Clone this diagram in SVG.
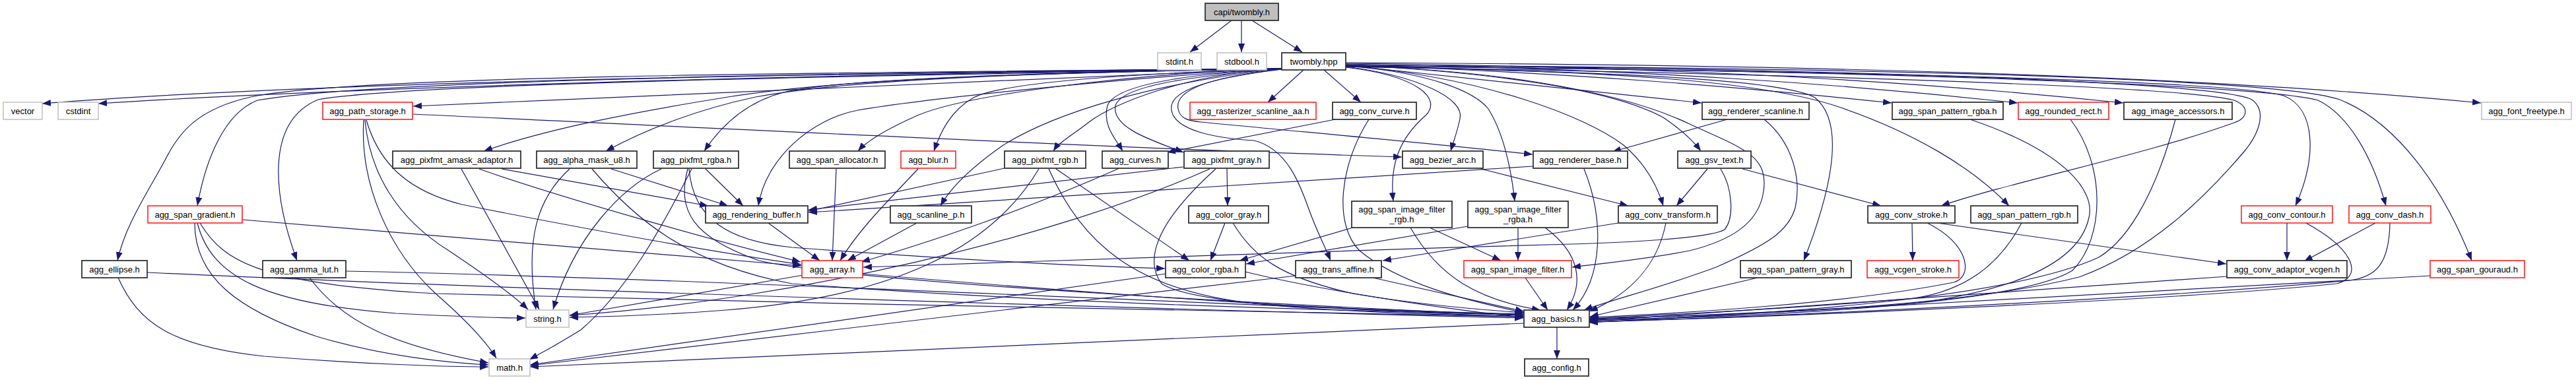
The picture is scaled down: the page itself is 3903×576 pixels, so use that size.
<svg xmlns="http://www.w3.org/2000/svg" width="3903" height="576" viewBox="0 0 3903 576">
<style>
rect{fill:#fff;stroke:#333;stroke-width:1.8}
.r rect{stroke:#f00;stroke-width:1.4}
.g rect{stroke:#bfbfbf;stroke-width:1.5}
.top rect{fill:#bfbfbf;stroke:#333}
text{font-family:"Liberation Sans",Arial,sans-serif;font-size:13px;fill:#000;text-anchor:middle}
#edges path{fill:none;stroke:#191970;stroke-width:1.2;marker-end:url(#a)}
</style>
<defs>
<marker id="a" markerUnits="userSpaceOnUse" markerWidth="14" markerHeight="10" refX="13" refY="5" orient="auto"><path d="M0,0 L13,5 L0,10 Z" fill="#191970"/></marker>
</defs>
<rect x="0" y="0" width="3903" height="576" style="fill:#fff;stroke:none"/>
<g id="edges">
<path d="M1866,31 L1803,79"/>
<path d="M1881,31 L1881,79"/>
<path d="M1897,31 L1973,79"/>
<path d="M1942,104 C1400,108 500,122 64,157"/>
<path d="M1942,104 C1400,110 600,128 149,157"/>
<path d="M1942,104 C1600,118 1100,140 626,161"/>
<path d="M1942,104 C1200,110 520,116 380,147 C300,165 272,200 252,239 C225,290 190,340 178,395"/>
<path d="M1942,104 C1200,112 560,122 390,152 C340,172 312,240 299,312"/>
<path d="M1942,104 C1300,115 620,126 482,151 C400,185 415,300 450,395"/>
<path d="M1942,104 C1600,110 1280,118 1103,147 C960,170 830,195 733,229"/>
<path d="M1942,104 C1600,110 1300,118 1145,147 C1060,165 980,195 918,229"/>
<path d="M1942,104 C1600,110 1280,118 1187,140 C1130,155 1093,190 1067,229"/>
<path d="M1942,104 C1700,118 1400,150 1300,167 C1230,180 1160,240 1149,312"/>
<path d="M1942,104 C1700,112 1460,145 1390,175 C1345,195 1315,212 1300,229"/>
<path d="M1942,104 C1700,112 1520,125 1475,148 C1440,168 1425,200 1415,229"/>
<path d="M1942,104 C1800,112 1690,155 1650,185 C1625,205 1605,215 1596,229"/>
<path d="M1942,104 C1750,125 1600,170 1520,220 C1470,255 1440,285 1425,312"/>
<path d="M1942,104 C1800,112 1690,128 1678,160 C1670,190 1690,210 1701,229"/>
<path d="M1942,104 C1800,116 1700,130 1690,160 C1684,195 1750,214 1793,231"/>
<path d="M1975,106 L1921,155"/>
<path d="M2006,106 L2062,155"/>
<path d="M1942,105 C1820,120 1770,140 1775,167 C1780,200 1850,210 1900,213 C1950,225 1970,280 1983,317 C1995,350 2008,375 2016,395"/>
<path d="M1942,105 C1820,118 1780,140 1785,165 C1788,180 1800,183 1820,185 C1950,198 2150,215 2322,234"/>
<path d="M2039,99 L2578,156"/>
<path d="M2039,98 C2400,112 2620,130 2866,156"/>
<path d="M2039,97 C2500,105 2800,128 3057,156"/>
<path d="M2039,96 C2600,102 2950,128 3217,156"/>
<path d="M2039,95 C2700,98 3300,112 3759,156"/>
<path d="M2039,101 C2150,115 2220,150 2212,180 C2208,200 2202,215 2198,229"/>
<path d="M2039,102 C2150,115 2185,150 2160,175 C2120,210 2105,250 2111,305"/>
<path d="M2039,100 C2170,110 2235,140 2255,165 C2280,205 2290,260 2295,305"/>
<path d="M2039,99 C2250,118 2400,175 2460,220 C2495,250 2512,285 2520,312"/>
<path d="M2039,98 C2300,112 2450,140 2520,178 C2545,195 2563,210 2577,229"/>
<path d="M2039,101 C2600,110 3300,128 3385,152 C3410,162 3405,180 3385,186 C3250,235 3050,275 2941,312"/>
<path d="M2039,100 C2450,108 2660,122 2780,160 C2900,200 2990,255 3044,312"/>
<path d="M2039,101 C2400,108 2700,118 2750,148 C2795,185 2778,280 2733,395"/>
<path d="M2039,100 C2800,108 3380,122 3460,145 C3510,165 3510,240 3478,312"/>
<path d="M2039,100 C2800,106 3420,128 3512,152 C3560,175 3595,240 3615,312"/>
<path d="M2039,99 C2800,102 3450,118 3545,151 C3630,185 3700,280 3745,395"/>
<path d="M2039,100 C2250,105 2450,135 2560,188 C2640,225 2680,235 2672,290 C2665,340 2620,365 2560,380 C2500,392 2440,398 2382,405"/>
<path d="M2039,99 C2800,103 3350,125 3410,150 C3435,165 3425,200 3400,230 C3340,300 3260,380 3150,420 C2950,470 2600,478 2408,483"/>
<path d="M2617,181 L2443,230"/>
<path d="M2673,181 C2715,215 2730,270 2720,315 C2710,350 2680,370 2600,405 C2520,435 2440,455 2400,470"/>
<path d="M2023,181 L1768,231"/>
<path d="M2074,181 C2030,250 2020,340 2060,380 C2120,430 2220,455 2309,474"/>
<path d="M626,173 C1100,195 1700,225 2124,238"/>
<path d="M555,182 C575,250 620,290 700,310 C900,350 1100,385 1214,401"/>
<path d="M553,182 C560,260 600,330 680,380 C740,420 780,450 800,469"/>
<path d="M551,182 C545,280 590,380 660,445 C700,480 735,515 752,543"/>
<path d="M367,333 L1214,403"/>
<path d="M295,338 C295,420 360,470 480,510 C580,540 680,550 740,553"/>
<path d="M299,338 C320,420 400,460 600,475 C700,480 760,482 796,482"/>
<path d="M303,338 C340,400 400,430 660,445 C1200,460 2000,475 2308,480"/>
<path d="M223,413 C800,440 1800,470 2308,482"/>
<path d="M179,421 C210,490 260,525 400,540 C550,552 680,556 740,556"/>
<path d="M524,411 C1000,420 1800,460 2308,478"/>
<path d="M469,421 C520,490 600,525 740,550"/>
<path d="M699,256 L817,469"/>
<path d="M760,256 L1073,312"/>
<path d="M726,256 C850,300 1100,370 1213,397"/>
<path d="M863,256 C815,300 795,360 812,469"/>
<path d="M897,256 C960,330 1040,400 1200,430 C1600,460 2000,470 2308,477"/>
<path d="M926,256 L1103,312"/>
<path d="M1002,256 C940,285 870,360 838,469"/>
<path d="M1048,256 C1000,350 950,440 880,500 C840,525 815,538 802,545"/>
<path d="M1069,256 L1126,312"/>
<path d="M1042,256 C1025,320 1050,360 1150,395 C1300,430 2000,465 2308,478"/>
<path d="M1044,256 C1050,330 1100,365 1200,375 C1400,390 1600,402 1765,407"/>
<path d="M1267,256 L1261,395"/>
<path d="M1391,256 C1340,310 1300,350 1273,395"/>
<path d="M1389,338 L1284,395"/>
<path d="M1164,338 L1242,395"/>
<path d="M1696,255 C1550,320 1400,370 1305,397"/>
<path d="M1522,255 L1225,320"/>
<path d="M1574,256 C1500,380 1350,450 1100,470 C1000,478 920,480 863,481"/>
<path d="M1589,256 C1640,370 1720,440 1900,460 C2100,472 2250,474 2308,476"/>
<path d="M1600,256 L1802,395"/>
<path d="M1793,253 L1225,318"/>
<path d="M1833,256 C1600,360 1200,455 863,478"/>
<path d="M1842,256 C1760,330 1730,390 1760,430 C1820,470 2200,478 2308,480"/>
<path d="M1859,255 L1860,312"/>
<path d="M1856,338 L1834,395"/>
<path d="M1868,338 C1900,390 1940,420 2050,445 C2150,462 2250,470 2309,474"/>
<path d="M1887,412 C2000,440 2200,470 2308,481"/>
<path d="M1766,415 L803,553"/>
<path d="M1217,417 L863,478"/>
<path d="M1307,415 C1600,440 2000,470 2308,480"/>
<path d="M2080,421 L2309,472"/>
<path d="M1963,418 L803,554"/>
<path d="M2050,345 L1878,395"/>
<path d="M2166,345 L2274,395"/>
<path d="M2137,345 C2180,420 2240,455 2334,470"/>
<path d="M2224,343 C2100,365 1980,385 1888,400"/>
<path d="M2300,345 L2300,395"/>
<path d="M2341,345 C2395,385 2400,430 2374,470"/>
<path d="M2311,421 L2345,470"/>
<path d="M2400,256 C2430,330 2430,420 2383,470"/>
<path d="M2323,252 L1225,322"/>
<path d="M2244,256 L2467,312"/>
<path d="M2524,338 C2510,410 2460,450 2408,472"/>
<path d="M2452,338 L2095,395"/>
<path d="M2587,256 L2540,312"/>
<path d="M2640,256 L2850,312"/>
<path d="M2607,256 C2625,285 2628,330 2613,348 C2590,362 2450,368 2380,370 C2000,380 1600,395 1308,405"/>
<path d="M2897,338 L2898,395"/>
<path d="M2935,338 L3373,400"/>
<path d="M2920,338 C2985,370 2990,420 2960,428 C2800,460 2550,475 2408,481"/>
<path d="M3063,338 C3030,400 2980,440 2900,452 C2700,470 2500,478 2408,483"/>
<path d="M2985,181 C3130,230 3175,290 3165,330 C3150,400 3050,440 2900,460 C2700,475 2500,480 2408,484"/>
<path d="M3137,181 C3190,250 3190,360 3140,410 C3060,460 2700,480 2408,485"/>
<path d="M2663,421 L2409,480"/>
<path d="M3296,181 C3270,280 3230,360 3180,390 C3050,450 2700,478 2408,486"/>
<path d="M3374,419 L2408,487"/>
<path d="M3465,338 L3465,395"/>
<path d="M3494,338 C3570,380 3580,420 3540,430 C3300,455 2700,480 2408,488"/>
<path d="M3599,338 L3491,396"/>
<path d="M3621,338 C3620,400 3600,420 3560,425 C3300,450 2700,480 2408,488"/>
<path d="M3682,418 L2408,489"/>
<path d="M2309,490 L803,556"/>
<path d="M2359,496 L2359,544"/>
</g>
<g id="n-capi" class="top"><rect x="1826" y="5" width="111" height="26"/><text x="1881.5" y="22.5">capi/twombly.h</text></g>
<g id="n-stdint" class="g"><rect x="1754" y="80" width="66" height="26"/><text x="1787" y="97.5">stdint.h</text></g>
<g id="n-stdbool" class="g"><rect x="1844" y="80" width="75" height="26"/><text x="1881.5" y="97.5">stdbool.h</text></g>
<g id="n-hpp"><rect x="1942" y="80" width="97" height="26"/><text x="1990.5" y="97.5">twombly.hpp</text></g>
<g id="n-vector" class="g"><rect x="5" y="155" width="59" height="26"/><text x="34.5" y="172.5">vector</text></g>
<g id="n-cstdint" class="g"><rect x="88" y="155" width="61" height="26"/><text x="118.5" y="172.5">cstdint</text></g>
<g id="n-path_storage" class="r"><rect x="489" y="155" width="136" height="26"/><text x="557" y="172.5">agg_path_storage.h</text></g>
<g id="n-rasterizer" class="r"><rect x="1803" y="155" width="191" height="26"/><text x="1898.5" y="172.5">agg_rasterizer_scanline_aa.h</text></g>
<g id="n-conv_curve"><rect x="2019" y="155" width="127" height="26"/><text x="2082.5" y="172.5">agg_conv_curve.h</text></g>
<g id="n-renderer_scanline"><rect x="2579" y="155" width="162" height="26"/><text x="2660" y="172.5">agg_renderer_scanline.h</text></g>
<g id="n-span_pattern_rgba"><rect x="2867" y="155" width="168" height="26"/><text x="2951" y="172.5">agg_span_pattern_rgba.h</text></g>
<g id="n-rounded_rect" class="r"><rect x="3058" y="155" width="137" height="26"/><text x="3126.5" y="172.5">agg_rounded_rect.h</text></g>
<g id="n-image_accessors"><rect x="3218" y="155" width="164" height="26"/><text x="3300" y="172.5">agg_image_accessors.h</text></g>
<g id="n-font_freetype" class="g"><rect x="3760" y="155" width="136" height="26"/><text x="3828" y="172.5">agg_font_freetype.h</text></g>
<g id="n-amask"><rect x="595" y="229" width="194" height="26"/><text x="692" y="246.5">agg_pixfmt_amask_adaptor.h</text></g>
<g id="n-alpha_mask"><rect x="813" y="229" width="152" height="26"/><text x="889" y="246.5">agg_alpha_mask_u8.h</text></g>
<g id="n-pixfmt_rgba"><rect x="990" y="229" width="129" height="26"/><text x="1054.5" y="246.5">agg_pixfmt_rgba.h</text></g>
<g id="n-span_allocator"><rect x="1196" y="229" width="145" height="26"/><text x="1268.5" y="246.5">agg_span_allocator.h</text></g>
<g id="n-blur" class="r"><rect x="1365" y="229" width="83" height="26"/><text x="1406.5" y="246.5">agg_blur.h</text></g>
<g id="n-pixfmt_rgb"><rect x="1522" y="229" width="123" height="26"/><text x="1583.5" y="246.5">agg_pixfmt_rgb.h</text></g>
<g id="n-curves"><rect x="1670" y="229" width="100" height="26"/><text x="1720" y="246.5">agg_curves.h</text></g>
<g id="n-pixfmt_gray"><rect x="1794" y="229" width="129" height="26"/><text x="1858.5" y="246.5">agg_pixfmt_gray.h</text></g>
<g id="n-bezier_arc"><rect x="2125" y="229" width="122" height="26"/><text x="2186" y="246.5">agg_bezier_arc.h</text></g>
<g id="n-renderer_base"><rect x="2323" y="229" width="143" height="26"/><text x="2394.5" y="246.5">agg_renderer_base.h</text></g>
<g id="n-gsv_text"><rect x="2542" y="229" width="111" height="26"/><text x="2597.5" y="246.5">agg_gsv_text.h</text></g>
<g id="n-span_gradient" class="r"><rect x="224" y="312" width="143" height="26"/><text x="295.5" y="329.5">agg_span_gradient.h</text></g>
<g id="n-rendering_buffer"><rect x="1069" y="312" width="155" height="26"/><text x="1146.5" y="329.5">agg_rendering_buffer.h</text></g>
<g id="n-scanline_p"><rect x="1349" y="312" width="123" height="26"/><text x="1410.5" y="329.5">agg_scanline_p.h</text></g>
<g id="n-color_gray"><rect x="1801" y="312" width="121" height="26"/><text x="1861.5" y="329.5">agg_color_gray.h</text></g>
<g id="n-sif_rgb"><rect x="2048" y="305" width="152" height="40"/><text x="2124" y="321.5">agg_span_image_filter</text><text x="2124" y="336.5">_rgb.h</text></g>
<g id="n-sif_rgba"><rect x="2224" y="305" width="152" height="40"/><text x="2300" y="321.5">agg_span_image_filter</text><text x="2300" y="336.5">_rgba.h</text></g>
<g id="n-conv_transform"><rect x="2452" y="312" width="150" height="26"/><text x="2527" y="329.5">agg_conv_transform.h</text></g>
<g id="n-conv_stroke"><rect x="2830" y="312" width="132" height="26"/><text x="2896" y="329.5">agg_conv_stroke.h</text></g>
<g id="n-span_pattern_rgb"><rect x="2986" y="312" width="162" height="26"/><text x="3067" y="329.5">agg_span_pattern_rgb.h</text></g>
<g id="n-conv_contour" class="r"><rect x="3396" y="312" width="138" height="26"/><text x="3465" y="329.5">agg_conv_contour.h</text></g>
<g id="n-conv_dash" class="r"><rect x="3559" y="312" width="124" height="26"/><text x="3621" y="329.5">agg_conv_dash.h</text></g>
<g id="n-ellipse"><rect x="124" y="395" width="99" height="26"/><text x="173.5" y="412.5">agg_ellipse.h</text></g>
<g id="n-gamma_lut"><rect x="398" y="395" width="126" height="26"/><text x="461" y="412.5">agg_gamma_lut.h</text></g>
<g id="n-array" class="r"><rect x="1215" y="395" width="92" height="26"/><text x="1261" y="412.5">agg_array.h</text></g>
<g id="n-color_rgba"><rect x="1766" y="395" width="121" height="26"/><text x="1826.5" y="412.5">agg_color_rgba.h</text></g>
<g id="n-trans_affine"><rect x="1963" y="395" width="130" height="26"/><text x="2028" y="412.5">agg_trans_affine.h</text></g>
<g id="n-span_image_filter" class="r"><rect x="2218" y="395" width="163" height="26"/><text x="2299.5" y="412.5">agg_span_image_filter.h</text></g>
<g id="n-span_pattern_gray"><rect x="2637" y="395" width="168" height="26"/><text x="2721" y="412.5">agg_span_pattern_gray.h</text></g>
<g id="n-vcgen_stroke" class="r"><rect x="2829" y="395" width="139" height="26"/><text x="2898.5" y="412.5">agg_vcgen_stroke.h</text></g>
<g id="n-conv_adaptor_vcgen"><rect x="3374" y="395" width="182" height="26"/><text x="3465" y="412.5">agg_conv_adaptor_vcgen.h</text></g>
<g id="n-span_gouraud" class="r"><rect x="3682" y="395" width="143" height="26"/><text x="3753.5" y="412.5">agg_span_gouraud.h</text></g>
<g id="n-string" class="g"><rect x="797" y="470" width="65" height="26"/><text x="829.5" y="487.5">string.h</text></g>
<g id="n-basics"><rect x="2309" y="470" width="99" height="26"/><text x="2358.5" y="487.5">agg_basics.h</text></g>
<g id="n-math" class="g"><rect x="741" y="544" width="62" height="26"/><text x="772" y="561.5">math.h</text></g>
<g id="n-config"><rect x="2310" y="544" width="97" height="26"/><text x="2358.5" y="561.5">agg_config.h</text></g>
</svg>
